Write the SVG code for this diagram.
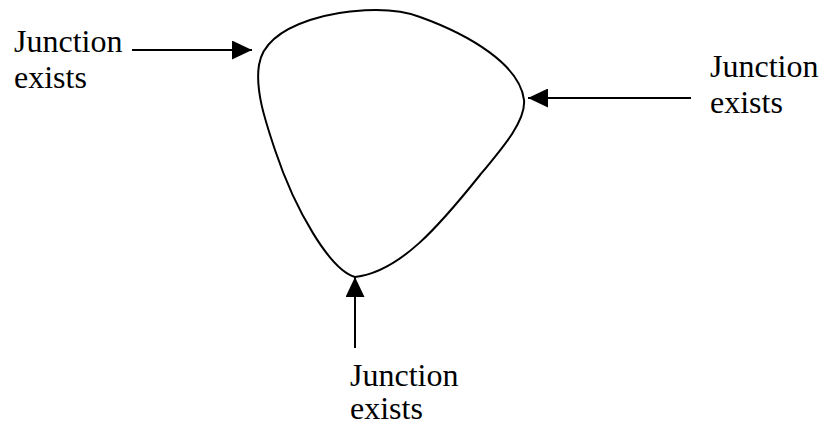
<svg xmlns="http://www.w3.org/2000/svg" width="822" height="427" viewBox="0 0 822 427">
<defs>
<style>
.lbl{font-family:"Liberation Serif","Times New Roman",serif;font-size:32px;fill:#000}
.conn{stroke:#000;stroke-width:2;fill:none}
</style>
<marker id="ah" viewBox="0 0 20 19" refX="20" refY="9.5" markerWidth="20" markerHeight="19" markerUnits="userSpaceOnUse" orient="auto">
<path d="M0,0 L20,9.5 L0,19 Z" fill="#000"/>
</marker>
</defs>
<rect width="822" height="427" fill="#fff"/>
<g id="shape">
<path d="M355,277 C330,270 295,210 275,150 C265,120 255,90 259,65 C262,45 280,30 310,20 C340,10 390,5 420,17 C470,35 520,65 524,100 C526,120 505,145 480,175 C440,225 400,272 355,277 Z" fill="none" stroke="#000" stroke-width="2"/>
</g>
<g id="label-left">
<text class="lbl" x="14" y="52">Junction</text>
<text class="lbl" x="14" y="88">exists</text>
</g>
<g id="label-right">
<text class="lbl" x="710" y="77">Junction</text>
<text class="lbl" x="710" y="113">exists</text>
</g>
<g id="label-bottom">
<text class="lbl" x="350" y="386">Junction</text>
<text class="lbl" x="350" y="419">exists</text>
</g>
<g id="connectors">
<line class="conn" x1="132" y1="50" x2="252" y2="50" marker-end="url(#ah)"/>
<line class="conn" x1="691" y1="98" x2="528" y2="98" marker-end="url(#ah)"/>
<line class="conn" x1="355" y1="348" x2="355" y2="277" marker-end="url(#ah)"/>
</g>
</svg>
